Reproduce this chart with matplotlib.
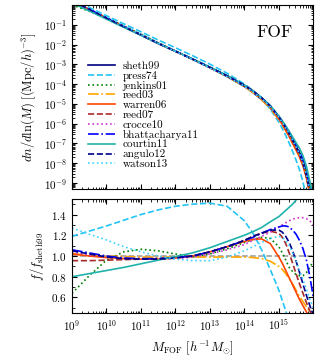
import numpy as np
import matplotlib
matplotlib.use("Agg")
import matplotlib.pyplot as plt
from matplotlib.ticker import MultipleLocator, LogLocator, NullFormatter

plt.rcParams["font.family"] = "serif"
plt.rcParams["font.serif"] = ["cmr10", "DejaVu Serif"]
plt.rcParams["mathtext.fontset"] = "cm"
plt.rcParams["axes.formatter.use_mathtext"] = True
plt.rcParams["axes.unicode_minus"] = False

# log10 of halo mass [h^-1 Msun]
log_mass = [9.0, 9.5, 10.0, 10.5, 11.0, 11.5, 12.0, 12.5, 13.0, 13.5, 14.0,
            14.25, 14.5, 14.75, 15.0, 15.1, 15.2, 15.3, 15.4, 15.5, 15.6,
            15.7, 15.8, 15.9, 16.0]

# log10 dn/dlnM for sheth99
log_sheth99 = [0.2, -0.22, -0.65, -1.08, -1.5, -1.93, -2.33, -2.74, -3.17,
               -3.62, -4.12, -4.42, -4.78, -5.2, -5.75, -6.0, -6.27, -6.55,
               -6.85, -7.15, -7.45, -7.85, -8.4, -9.2, -10.1]

# f / f_sheth99 for each model
press74 = [1.19, 1.24, 1.29, 1.345, 1.40, 1.445, 1.48, 1.50, 1.51, 1.48, 1.34,
           1.22, 1.06, 0.87, 0.67, 0.57, 0.47, 0.37, 0.28, 0.2, 0.13, 0.08,
           0.045, 0.022, 0.01]
jenkins01 = [0.64, 0.81, 0.96, 1.04, 1.065, 1.05, 1.02, 0.99, 1.02, 1.07, 1.13,
             1.16, 1.18, 1.17, 1.09, 1.03, 0.96, 0.89, 0.85, 0.82, 0.81, 0.81,
             0.84, 0.89, 0.95]
reed03 = [1.02, 1.01, 1.0, 0.995, 0.99, 0.99, 0.99, 0.99, 0.99, 0.99, 0.99,
          0.985, 0.975, 0.95, 0.9, 0.87, 0.83, 0.78, 0.73, 0.67, 0.61, 0.56,
          0.51, 0.46, 0.41]
warren06 = [1.02, 1.0, 0.985, 0.975, 0.97, 0.97, 0.98, 1.0, 1.04, 1.09, 1.14,
            1.16, 1.165, 1.12, 0.99, 0.93, 0.86, 0.79, 0.72, 0.65, 0.58, 0.52,
            0.46, 0.41, 0.36]
reed07 = [0.955, 0.955, 0.96, 0.965, 0.97, 0.975, 0.985, 1.0, 1.04, 1.09, 1.15,
          1.19, 1.22, 1.24, 1.22, 1.18, 1.12, 1.03, 0.93, 0.83, 0.73, 0.64,
          0.55, 0.47, 0.40]
crocce10 = [1.04, 1.01, 0.99, 0.975, 0.97, 0.97, 0.975, 0.99, 1.02, 1.06, 1.11,
            1.15, 1.19, 1.23, 1.28, 1.3, 1.32, 1.34, 1.355, 1.365, 1.37, 1.37,
            1.36, 1.34, 1.30]
bhattacharya11 = [1.06, 1.03, 1.0, 0.98, 0.975, 0.975, 0.985, 1.0, 1.04, 1.09,
                  1.15, 1.18, 1.22, 1.255, 1.28, 1.29, 1.29, 1.28, 1.25, 1.21,
                  1.15, 1.07, 0.96, 0.8, 0.6]
courtin11 = [0.80, 0.83, 0.86, 0.89, 0.925, 0.96, 0.995, 1.03, 1.08, 1.14, 1.20,
             1.235, 1.275, 1.33, 1.38, 1.41, 1.44, 1.47, 1.50, 1.54, 1.6, 1.68,
             1.78, 1.9, 2.05]
angulo12 = [1.05, 1.02, 0.99, 0.975, 0.97, 0.97, 0.98, 1.0, 1.04, 1.09, 1.15,
            1.19, 1.22, 1.25, 1.25, 1.23, 1.19, 1.13, 1.05, 0.95, 0.84, 0.73,
            0.62, 0.52, 0.43]
watson13 = [1.27, 1.21, 1.155, 1.09, 1.04, 1.0, 0.97, 0.955, 0.955, 0.99, 1.05,
            1.09, 1.13, 1.17, 1.19, 1.18, 1.15, 1.1, 1.03, 0.95, 0.86, 0.77,
            0.68, 0.58, 0.5]

models = [
    ("sheth99", [1.0] * len(log_mass), "#000080", "-"),
    ("press74", press74, "#22c4f5", "--"),
    ("jenkins01", jenkins01, "#008000", ":"),
    ("reed03", reed03, "#ffa500", "-."),
    ("warren06", warren06, "#ff4500", "-"),
    ("reed07", reed07, "#a52a2a", "--"),
    ("crocce10", crocce10, "#cc33cc", ":"),
    ("bhattacharya11", bhattacharya11, "#0000ff", "-."),
    ("courtin11", courtin11, "#20b2aa", "-"),
    ("angulo12", angulo12, "#00008b", "--"),
    ("watson13", watson13, "#3fd3ff", ":"),
]

mass = 10.0 ** np.array(log_mass)
sheth = 10.0 ** np.array(log_sheth99)

fig = plt.figure(figsize=(3.22, 3.57), dpi=100)
ax1 = fig.add_axes([0.2236, 0.4706, 0.7484, 0.5154])
ax2 = fig.add_axes([0.2236, 0.1232, 0.7484, 0.3194])

for label, ratio, color, ls in models:
    ax1.plot(mass, sheth * np.array(ratio), color=color, ls=ls, lw=1.2, label=label)
    if label != "sheth99":
        ax2.plot(mass, ratio, color=color, ls=ls, lw=1.2)
ax2.axhline(1.0, color="0.6", ls="--", lw=1.1, zorder=0)

for ax in (ax1, ax2):
    ax.set_xscale("log")
    ax.set_xlim(1e9, 10 ** 15.99)
    ax.set_xticks([10.0 ** k for k in range(9, 16)])
    ax.xaxis.set_minor_locator(LogLocator(base=10, subs=np.arange(2, 10), numticks=20))
    ax.tick_params(which="both", direction="in", top=True, right=True, labelsize=8)
    ax.tick_params(which="major", length=3.5)
    ax.tick_params(which="minor", length=1.8)

ax1.set_yscale("log")
ax1.set_ylim(5e-10, 1.0)
ax1.set_yticks([10.0 ** k for k in range(-9, 0)])
ax1.yaxis.set_minor_locator(LogLocator(base=10, subs=np.arange(2, 10), numticks=20))
ax1.yaxis.set_minor_formatter(NullFormatter())
ax1.set_xticklabels([])
ax1.set_ylabel(r"$dn/d\ln(M)\ [({\rm Mpc}/h)^{-3}]$", fontsize=9)
ax1.text(0.915, 0.895, "FOF", transform=ax1.transAxes, ha="right", va="top", fontsize=12.5)
ax1.legend(loc="upper left", bbox_to_anchor=(0.03, 0.745), frameon=False, fontsize=8,
           labelspacing=0.0, handlelength=2.4, handletextpad=0.7, borderpad=0.3)

ax2.set_ylim(0.45, 1.55)
ax2.yaxis.set_minor_locator(MultipleLocator(0.1))
ax2.set_yticks([0.6, 0.8, 1.0, 1.2, 1.4])
ax2.set_ylabel(r"$f/f_{\rm sheth99}$", fontsize=9)
ax2.set_xlabel(r"$M_{\rm FOF}\ [h^{-1}M_{\odot}]$", fontsize=9)

fig.savefig("out.png", dpi=100)
